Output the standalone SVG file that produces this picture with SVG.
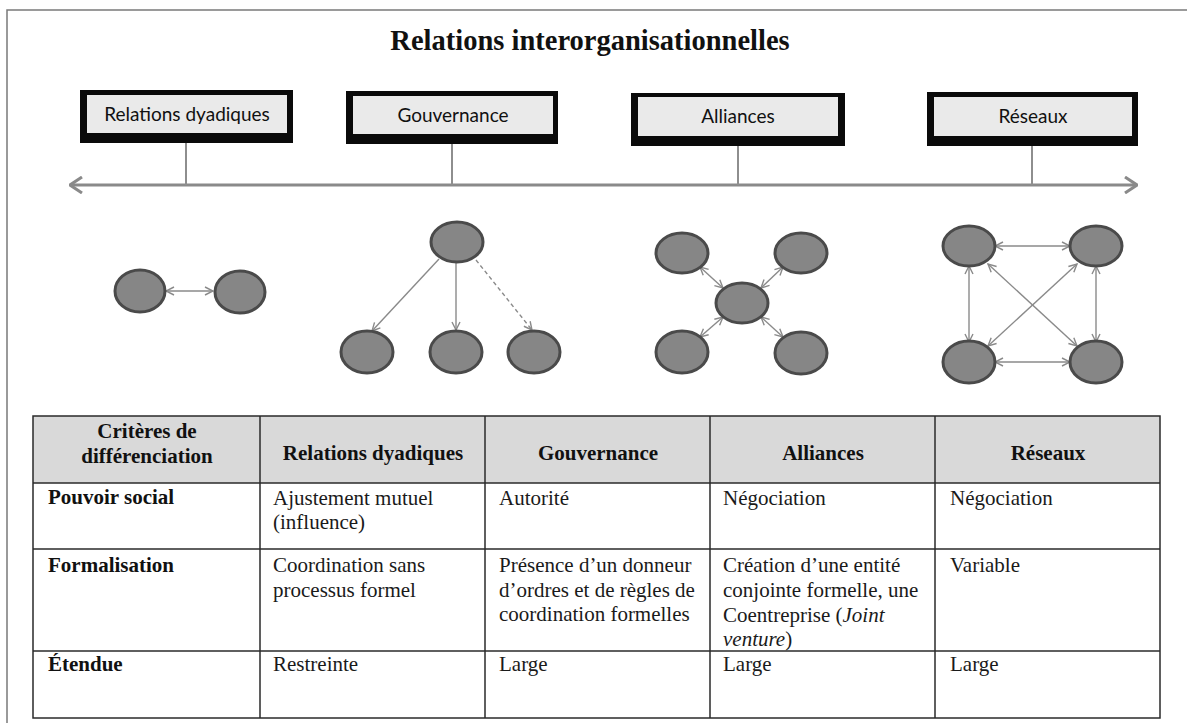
<svg xmlns="http://www.w3.org/2000/svg" width="1187" height="723" viewBox="0 0 1187 723">
  <style>
    .title { font-family: "Liberation Serif", "Times New Roman", serif; font-weight: bold; font-size: 28.5px; fill: #111; }
    .boxlabel { font-family: Lato, "Liberation Sans", sans-serif; font-size: 19px; fill: #111; }
    .boxout { fill: #0a0a0a; }
    .boxin { fill: #eaeaea; }
    .stem { stroke: #8e8e8e; stroke-width: 2; }
    .axis { stroke: #8a8a8a; stroke-width: 3; fill: none; }
    .node { fill: #868686; stroke: #4a4a4a; stroke-width: 3; }
    .edge { stroke: #8a8a8a; stroke-width: 1.4; fill: none; }
    .dashed { stroke-dasharray: 4 3; }
    .grid { stroke: #2a2a2a; stroke-width: 1.5; fill: none; }
    .th { font-family: "Liberation Serif", "Times New Roman", serif; font-weight: bold; font-size: 21px; fill: #111; }
    .td { font-family: "Liberation Serif", "Times New Roman", serif; font-size: 21px; fill: #1a1a1a; }
  </style>
  <defs>
    <marker id="axisHead" viewBox="0 0 14 18" refX="13" refY="9" markerWidth="14" markerHeight="18" markerUnits="userSpaceOnUse" orient="auto-start-reverse">
      <path d="M1,1 L13,9 L1,17" fill="none" stroke="#8a8a8a" stroke-width="3"/>
    </marker>
    <marker id="head" viewBox="0 0 10 10" refX="9" refY="5" markerWidth="10" markerHeight="10" markerUnits="userSpaceOnUse" orient="auto-start-reverse">
      <path d="M1,1 L9,5 L1,9" fill="none" stroke="#8a8a8a" stroke-width="1.4"/>
    </marker>
  </defs>

  <rect width="1187" height="723" fill="#ffffff"/>

  <!-- outer frame (left and top edges visible) -->
  <path d="M1187,10 L7,10 L7,723" fill="none" stroke="#7a7a7a" stroke-width="1.5"/>

  <text class="title" x="590" y="50" text-anchor="middle">Relations interorganisationnelles</text>

  <!-- timeline axis and stems -->
  <g id="timeline">
    <line class="axis" x1="70" y1="185" x2="1137" y2="185" marker-start="url(#axisHead)" marker-end="url(#axisHead)"/>
    <line class="stem" x1="186" y1="143" x2="186" y2="185"/>
    <line class="stem" x1="452" y1="144" x2="452" y2="185"/>
    <line class="stem" x1="738" y1="146" x2="738" y2="185"/>
    <line class="stem" x1="1032" y1="146" x2="1032" y2="185"/>
  </g>

  <!-- category boxes -->
  <g id="box-dyadiques">
    <rect class="boxout" x="80" y="90" width="213" height="53"/>
    <rect class="boxin" x="87" y="95" width="200" height="38"/>
    <text class="boxlabel" x="187" y="121" text-anchor="middle">Relations dyadiques</text>
  </g>
  <g id="box-gouvernance">
    <rect class="boxout" x="346" y="91" width="212" height="53"/>
    <rect class="boxin" x="353" y="96" width="200" height="38"/>
    <text class="boxlabel" x="453" y="122" text-anchor="middle">Gouvernance</text>
  </g>
  <g id="box-alliances">
    <rect class="boxout" x="631" y="93" width="214" height="53"/>
    <rect class="boxin" x="638" y="97" width="200" height="39"/>
    <text class="boxlabel" x="738" y="123" text-anchor="middle">Alliances</text>
  </g>
  <g id="box-reseaux">
    <rect class="boxout" x="927" y="92" width="211" height="54"/>
    <rect class="boxin" x="934" y="97" width="198" height="39"/>
    <text class="boxlabel" x="1033" y="123" text-anchor="middle">Réseaux</text>
  </g>

  <!-- network connectors -->
  <g id="connectors">
    <!-- dyad -->
    <line class="edge" x1="166" y1="291" x2="213" y2="291" marker-start="url(#head)" marker-end="url(#head)"/>
    <!-- governance tree -->
    <line class="edge" x1="439" y1="259" x2="372" y2="331" marker-end="url(#head)"/>
    <line class="edge" x1="456" y1="263" x2="456" y2="330" marker-end="url(#head)"/>
    <line class="edge dashed" x1="476" y1="260" x2="532" y2="330" marker-end="url(#head)"/>
    <!-- alliance star -->
    <line class="edge" x1="700" y1="267" x2="723" y2="288" marker-start="url(#head)" marker-end="url(#head)"/>
    <line class="edge" x1="783" y1="267" x2="761" y2="288" marker-start="url(#head)" marker-end="url(#head)"/>
    <line class="edge" x1="700" y1="337" x2="723" y2="317" marker-start="url(#head)" marker-end="url(#head)"/>
    <line class="edge" x1="783" y1="337" x2="761" y2="317" marker-start="url(#head)" marker-end="url(#head)"/>
    <!-- full network -->
    <line class="edge" x1="995" y1="246" x2="1070" y2="246" marker-start="url(#head)" marker-end="url(#head)"/>
    <line class="edge" x1="995" y1="362" x2="1070" y2="362" marker-start="url(#head)" marker-end="url(#head)"/>
    <line class="edge" x1="969" y1="266" x2="969" y2="342" marker-start="url(#head)" marker-end="url(#head)"/>
    <line class="edge" x1="1096" y1="266" x2="1096" y2="342" marker-start="url(#head)" marker-end="url(#head)"/>
    <line class="edge" x1="988" y1="264" x2="1077" y2="346" marker-start="url(#head)" marker-end="url(#head)"/>
    <line class="edge" x1="1077" y1="264" x2="988" y2="346" marker-start="url(#head)" marker-end="url(#head)"/>
  </g>

  <!-- network nodes -->
  <g id="dyad-nodes">
    <ellipse class="node" cx="140" cy="291" rx="25" ry="21"/>
    <ellipse class="node" cx="240" cy="292" rx="25" ry="21"/>
  </g>
  <g id="governance-nodes">
    <ellipse class="node" cx="457" cy="242" rx="26" ry="20"/>
    <ellipse class="node" cx="367" cy="352" rx="26" ry="21"/>
    <ellipse class="node" cx="456" cy="352" rx="26" ry="21"/>
    <ellipse class="node" cx="534" cy="352" rx="26" ry="21"/>
  </g>
  <g id="alliance-nodes">
    <ellipse class="node" cx="682" cy="253" rx="26" ry="20"/>
    <ellipse class="node" cx="801" cy="253" rx="26" ry="20"/>
    <ellipse class="node" cx="742" cy="303" rx="26" ry="20"/>
    <ellipse class="node" cx="682" cy="352" rx="26" ry="21"/>
    <ellipse class="node" cx="801" cy="353" rx="26" ry="21"/>
  </g>
  <g id="network-nodes">
    <ellipse class="node" cx="969" cy="246" rx="26" ry="20"/>
    <ellipse class="node" cx="1096" cy="246" rx="26" ry="20"/>
    <ellipse class="node" cx="969" cy="362" rx="26" ry="21"/>
    <ellipse class="node" cx="1096" cy="362" rx="26" ry="21"/>
  </g>

  <!-- comparison table -->
  <g id="table">
    <rect x="33" y="416" width="1127" height="67" fill="#d9d9d9"/>
    <rect class="grid" x="33" y="416" width="1127" height="302"/>
    <line class="grid" x1="33" y1="483" x2="1160" y2="483"/>
    <line class="grid" x1="33" y1="549" x2="1160" y2="549"/>
    <line class="grid" x1="33" y1="651" x2="1160" y2="651"/>
    <line class="grid" x1="260" y1="416" x2="260" y2="718"/>
    <line class="grid" x1="485" y1="416" x2="485" y2="718"/>
    <line class="grid" x1="710" y1="416" x2="710" y2="718"/>
    <line class="grid" x1="935" y1="416" x2="935" y2="718"/>

    <text class="th" x="147" y="438" text-anchor="middle">Critères de</text>
    <text class="th" x="147" y="463" text-anchor="middle">différenciation</text>
    <text class="th" x="373" y="460" text-anchor="middle">Relations dyadiques</text>
    <text class="th" x="598" y="460" text-anchor="middle">Gouvernance</text>
    <text class="th" x="823" y="460" text-anchor="middle">Alliances</text>
    <text class="th" x="1048" y="460" text-anchor="middle">Réseaux</text>

    <text class="th" x="48" y="504">Pouvoir social</text>
    <text class="td" x="273" y="505">Ajustement mutuel</text>
    <text class="td" x="273" y="529">(influence)</text>
    <text class="td" x="499" y="505">Autorité</text>
    <text class="td" x="723" y="505">Négociation</text>
    <text class="td" x="950" y="505">Négociation</text>

    <text class="th" x="48" y="572">Formalisation</text>
    <text class="td" x="273" y="572">Coordination sans</text>
    <text class="td" x="273" y="597">processus formel</text>
    <text class="td" x="499" y="572">Présence d’un donneur</text>
    <text class="td" x="499" y="597">d’ordres et de règles de</text>
    <text class="td" x="499" y="621">coordination formelles</text>
    <text class="td" x="723" y="572">Création d’une entité</text>
    <text class="td" x="723" y="597">conjointe formelle, une</text>
    <text class="td" x="723" y="622">Coentreprise (<tspan font-style="italic">Joint</tspan></text>
    <text class="td" x="723" y="646"><tspan font-style="italic">venture</tspan>)</text>
    <text class="td" x="950" y="572">Variable</text>

    <text class="th" x="48" y="671">Étendue</text>
    <text class="td" x="273" y="671">Restreinte</text>
    <text class="td" x="499" y="671">Large</text>
    <text class="td" x="723" y="671">Large</text>
    <text class="td" x="950" y="671">Large</text>
  </g>
</svg>
